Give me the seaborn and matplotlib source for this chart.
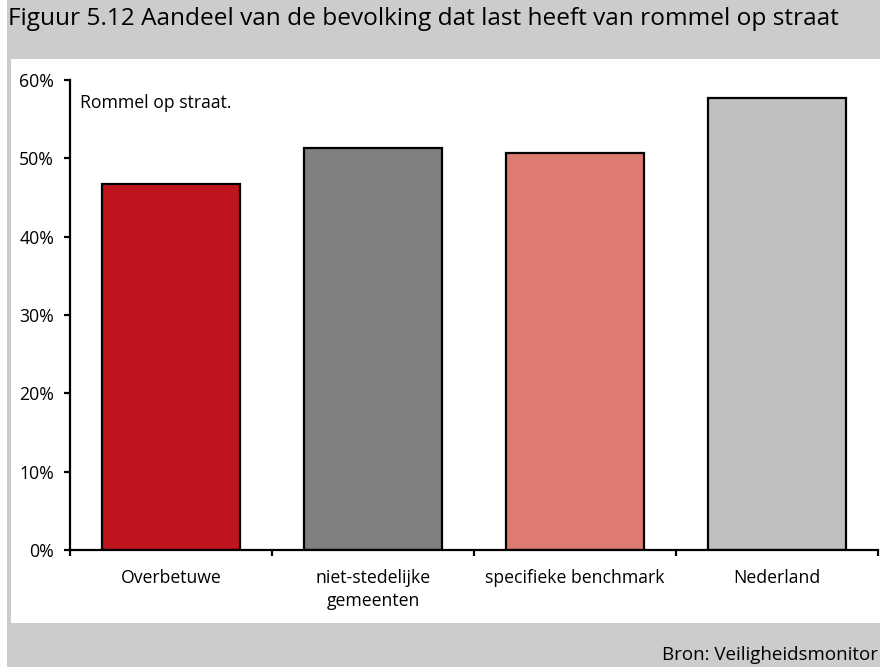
import matplotlib
matplotlib.use("Agg")
import matplotlib.pyplot as plt
import seaborn as sns
import pandas as pd
from matplotlib.patches import Rectangle
from matplotlib.ticker import FuncFormatter

categories = ["Overbetuwe", "niet-stedelijke\ngemeenten", "specifieke benchmark", "Nederland"]
values = [46.7, 51.3, 50.7, 57.7]
colors = ["#c0141e", "#808080", "#de7b70", "#c0c0c0"]
title = "Figuur 5.12 Aandeel van de bevolking dat last heeft van rommel op straat"
subtitle = "Rommel op straat."
source = "Bron: Veiligheidsmonitor"

sns.set_theme(style="white")
plt.rcParams['font.family'] = ['Open Sans', 'DejaVu Sans']

W, H = 880, 667
fig = plt.figure(figsize=(W / 100, H / 100), dpi=100, facecolor="#cccccc")

def fx(px):
    return px / W

def fy(py):
    return 1 - py / H

# background panel axes
bg = fig.add_axes([0, 0, 1, 1], zorder=-5)
bg.set_xlim(0, W)
bg.set_ylim(H, 0)
bg.axis("off")
bg.add_patch(Rectangle((0, 0), 7, H, facecolor="white", edgecolor="none"))
bg.add_patch(Rectangle((11, 59), W - 11, 623 - 59, facecolor="white", edgecolor="none"))

ax = fig.add_axes([fx(70), fy(550), fx(878) - fx(70), fy(80) - fy(550)], zorder=1)
ax.set_facecolor("none")

df = pd.DataFrame({"cat": categories, "val": values})
sns.barplot(data=df, x="cat", y="val", hue="cat", palette=colors, legend=False,
            width=0.68, edgecolor="black", linewidth=1.6, saturation=1, ax=ax)

ax.set_xlim(-0.5, 3.5)
ax.set_ylim(0, 60)
ax.set_yticks(range(0, 61, 10))
ax.yaxis.set_major_formatter(FuncFormatter(lambda v, p: f"{int(v)}%"))
ax.set_xticks([-0.5, 0.5, 1.5, 2.5, 3.5])
ax.set_xticklabels([])
ax.set_xticks(range(4), minor=True)
ax.set_xticklabels(categories, minor=True, fontsize=12.7, linespacing=1.35)
ax.tick_params(axis="x", which="minor", length=0, pad=13.5)
ax.tick_params(axis="x", which="major", direction="out", length=4.5, width=1.6,
               color="black", bottom=True)
ax.tick_params(axis="y", direction="out", length=4.5, width=1.6, color="black",
               left=True, labelsize=12.7, pad=7)
for lbl in ax.get_yticklabels():
    lbl.set_color("black")
for lbl in ax.get_xticklabels(minor=True):
    lbl.set_color("black")
ax.set_xlabel("")
ax.set_ylabel("")
sns.despine(ax=ax)
for s in ["left", "bottom"]:
    ax.spines[s].set_color("black")
    ax.spines[s].set_linewidth(1.6)

fig.text(fx(80), fy(103), subtitle, fontsize=12.7, ha="left", va="center", color="black")
fig.text(fx(8), fy(19), title, fontsize=17.6, ha="left", va="center", color="black")
fig.text(fx(878), fy(655), source, fontsize=13.5, ha="right", va="center", color="black")

fig.savefig("out.png", dpi=100, facecolor=fig.get_facecolor())
